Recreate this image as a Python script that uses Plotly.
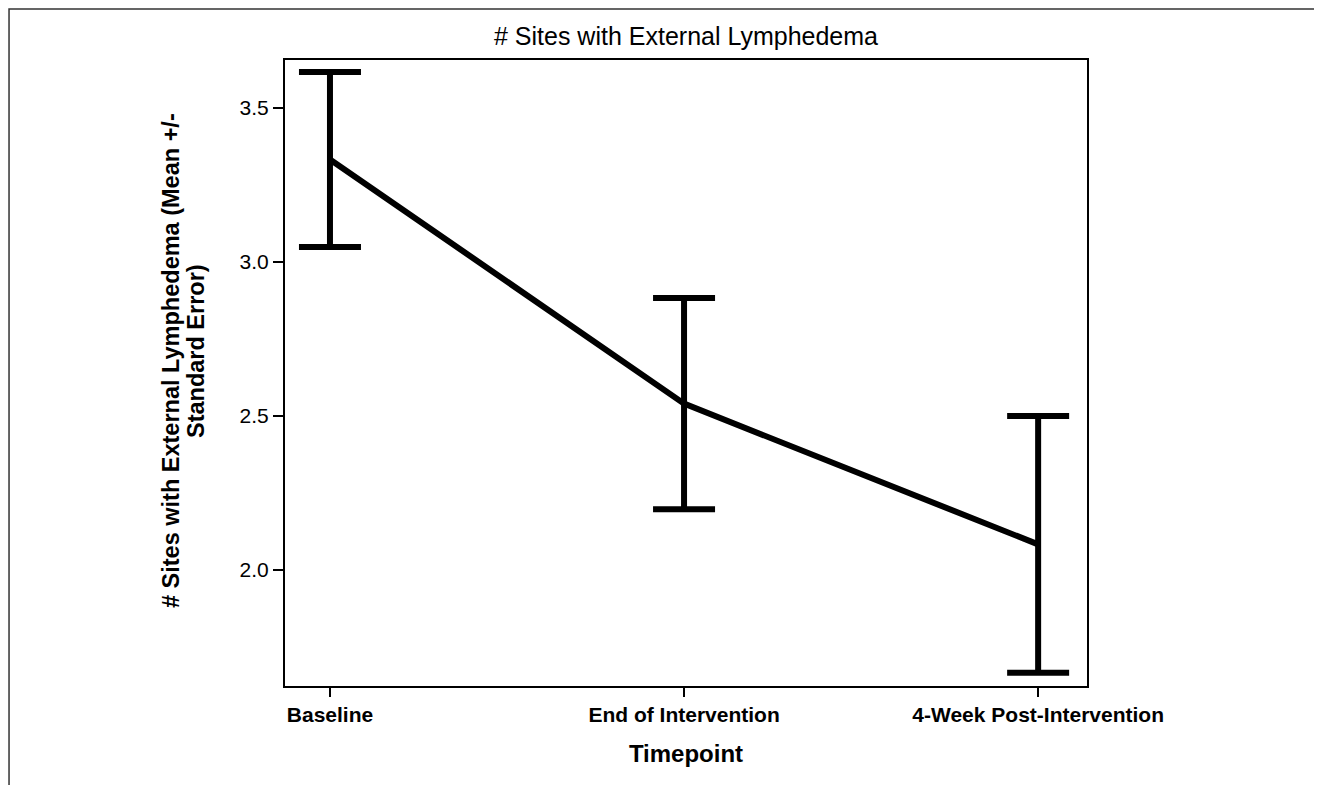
import plotly.graph_objects as go

timepoints = ["Baseline", "End of Intervention", "4-Week Post-Intervention"]
x_pos = [0, 1, 2]
means = [3.333, 2.54, 2.083]
std_err = [0.284, 0.343, 0.417]
y_ticks = [2.0, 2.5, 3.0, 3.5]
y_title_lines = ["# Sites with External Lymphedema (Mean +/-", "Standard Error)"]

FONT = "Liberation Sans, Arial, sans-serif"

fig = go.Figure()
fig.add_trace(go.Scatter(
    x=x_pos, y=means, mode="lines",
    line=dict(color="black", width=6),
    error_y=dict(type="data", array=std_err, visible=True, color="black",
                 thickness=6, width=31),
    showlegend=False, hoverinfo="skip",
))

fig.update_layout(
    width=1322, height=785,
    paper_bgcolor="white", plot_bgcolor="white",
    margin=dict(l=277, r=243, t=52, b=107),
    font=dict(family=FONT, color="black"),
    title=dict(text="# Sites with External Lymphedema", xref="paper", x=0.5, xanchor="center",
               y=1 - 28/785, yanchor="middle", font=dict(size=25, family=FONT)),
    xaxis=dict(
        range=[-0.127, 2.138], tickvals=x_pos,
        ticktext=["<b>%s</b>" % t for t in timepoints],
        tickfont=dict(size=21), ticks="outside", ticklen=9, tickwidth=1.5,
        tickcolor="black", showline=True, linewidth=2, linecolor="black",
        mirror=True, showgrid=False, zeroline=False,
        title=dict(text="<b>Timepoint</b>", font=dict(size=24), standoff=20),
    ),
    yaxis=dict(
        range=[1.623, 3.656], tickvals=y_ticks,
        ticktext=["%.1f" % v for v in y_ticks],
        tickfont=dict(size=21), ticks="outside", ticklen=10, tickwidth=1.5,
        tickcolor="black", showline=True, linewidth=2, linecolor="black",
        mirror=True, showgrid=False, zeroline=False,
    ),
    annotations=[
        dict(text="<b>%s</b>" % y_title_lines[0], textangle=-90, xref="paper", yref="paper",
             x=-0.1421, y=0.5192, xanchor="center", yanchor="middle", showarrow=False,
             font=dict(size=23.5)),
        dict(text="<b>%s</b>" % y_title_lines[1], textangle=-90, xref="paper", yref="paper",
             x=-0.1110, y=0.5351, xanchor="center", yanchor="middle", showarrow=False,
             font=dict(size=23.5)),
    ],
    shapes=[dict(type="rect", xref="paper", yref="paper",
                 x0=-0.3441, x1=1.2880, y0=-0.3, y1=1.0815,
                 line=dict(color="#333333", width=1.5))],
)

fig.write_html("out.html")
